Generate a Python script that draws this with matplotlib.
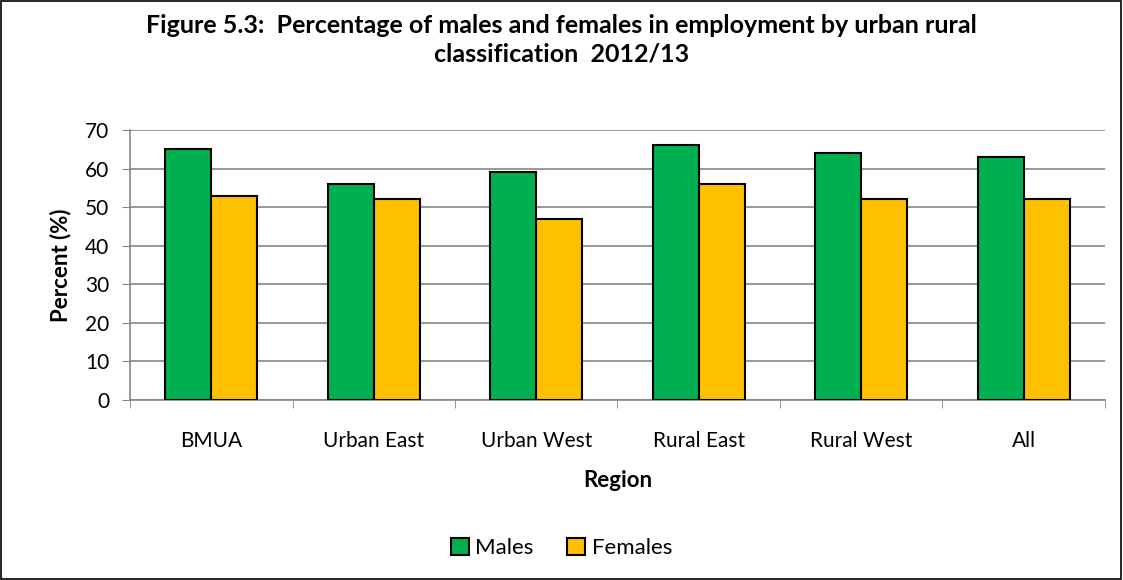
import matplotlib
matplotlib.use("Agg")
import matplotlib.pyplot as plt
import numpy as np
from matplotlib.patches import Rectangle

plt.rcParams['font.family'] = ['Lato', 'DejaVu Sans']

categories = ["BMUA", "Urban East", "Urban West", "Rural East", "Rural West", "All"]
males = [65, 56, 59, 66, 64, 63]
females = [53, 52, 47, 56, 52, 52]
yticks = [0, 10, 20, 30, 40, 50, 60, 70]

fig = plt.figure(figsize=(11.23, 5.8), dpi=100)
fig.patches.append(Rectangle((0.0005, 0.001), 0.998, 0.997, transform=fig.transFigure,
                             fill=False, edgecolor='black', linewidth=1.2))
ax = fig.add_axes([0.1158, 0.3103, 0.868, 0.4655])

x = np.arange(len(categories))
w = 0.283
ax.bar(x - w/2, males, width=w, color='#00B050', edgecolor='black', linewidth=1.5, label='Males', zorder=3)
ax.bar(x + w/2, females, width=w, color='#FFC000', edgecolor='black', linewidth=1.5, label='Females', zorder=3)

ax.set_xlim(-0.5, len(categories) - 0.5)
ax.set_ylim(0, 70)
ax.set_yticks(yticks)
ax.set_xticks(x)
ax.set_xticklabels(categories)
ax.set_xticks(np.arange(-0.5, len(categories)), minor=True)
ax.tick_params(axis='x', which='major', length=0, pad=22, labelsize=15)
ax.tick_params(axis='x', which='minor', length=6, color='#868686', direction='out')
ax.tick_params(axis='y', length=6, color='#868686', labelsize=15, pad=9)
ax.yaxis.grid(True, color='#868686', linewidth=1.2, zorder=0)
ax.set_axisbelow(True)
for s in ['top', 'right']:
    ax.spines[s].set_visible(False)
for s in ['left', 'bottom']:
    ax.spines[s].set_color('#868686')
    ax.spines[s].set_linewidth(1.2)

ax.set_ylabel("Percent (%)", fontsize=16, fontweight='bold', labelpad=10)
ax.set_xlabel("Region", fontsize=16, fontweight='bold', labelpad=14)

fig.text(0.5, 0.931, "Figure 5.3:  Percentage of males and females in employment by urban rural\nclassification  2012/13",
         ha='center', va='center', fontsize=18, fontweight='bold', linespacing=1.3)

fig.legend(loc='center', bbox_to_anchor=(0.5, 0.055), ncol=2, frameon=False, fontsize=16,
           handlelength=0.8, handleheight=0.8, handletextpad=0.3, columnspacing=1.5)

fig.savefig("out.png", dpi=100)
